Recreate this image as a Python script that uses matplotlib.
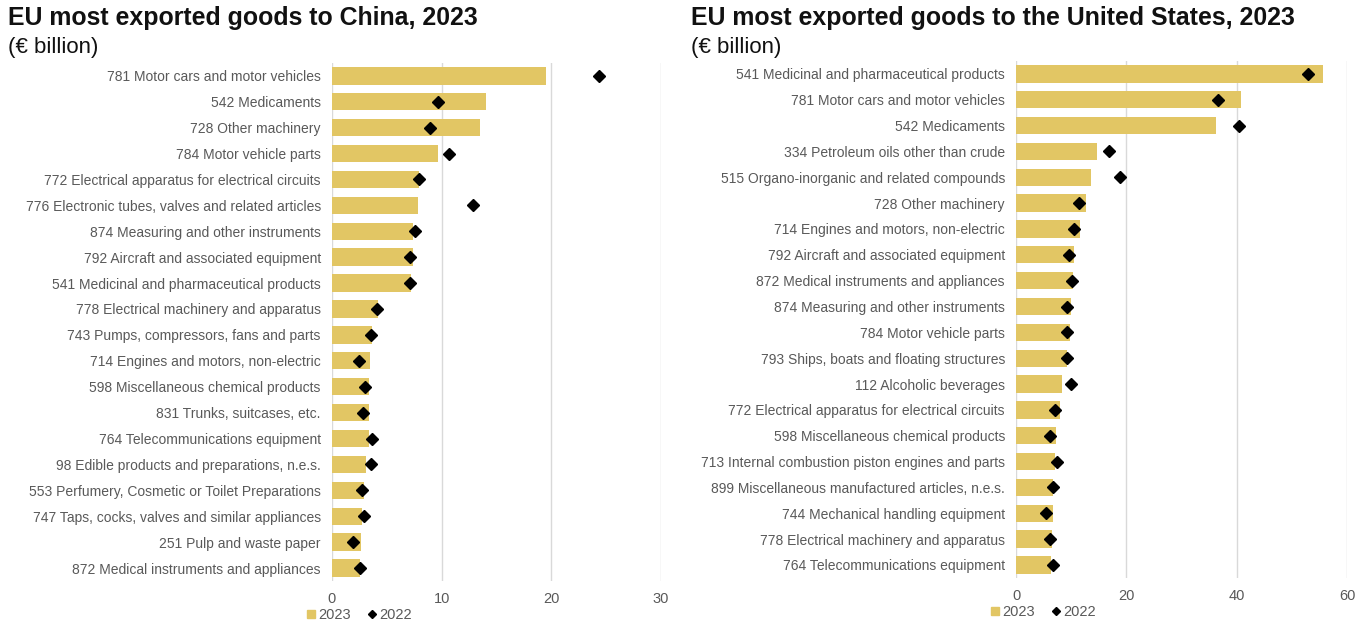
import matplotlib.pyplot as plt
from matplotlib.lines import Line2D

plt.rcParams['font.family'] = ['Liberation Sans', 'DejaVu Sans']

# China
cn_labels = [
    '781 Motor cars and motor vehicles',
    '542 Medicaments',
    '728 Other machinery',
    '784 Motor vehicle parts',
    '772 Electrical apparatus for electrical circuits',
    '776 Electronic tubes, valves and related articles',
    '874 Measuring and other instruments',
    '792 Aircraft and associated equipment',
    '541 Medicinal and pharmaceutical products',
    '778 Electrical machinery and apparatus',
    '743 Pumps, compressors, fans and parts',
    '714 Engines and motors, non-electric',
    '598 Miscellaneous chemical products',
    '831 Trunks, suitcases, etc.',
    '764 Telecommunications equipment',
    '98 Edible products and preparations, n.e.s.',
    '553 Perfumery, Cosmetic or Toilet Preparations',
    '747 Taps, cocks, valves and similar appliances',
    '251 Pulp and waste paper',
    '872 Medical instruments and appliances',
]
cn_2023 = [19.5, 14.0, 13.5, 9.7, 7.9, 7.8, 7.4, 7.4, 7.2, 4.2,
           3.65, 3.5, 3.4, 3.4, 3.35, 3.1, 2.9, 2.75, 2.65, 2.6]
cn_2022 = [24.3, 9.7, 8.9, 10.7, 7.9, 12.9, 7.6, 7.1, 7.1, 4.1,
           3.6, 2.45, 3.0, 2.8, 3.65, 3.6, 2.75, 2.9, 1.9, 2.6]

# United States
us_labels = [
    '541 Medicinal and pharmaceutical products',
    '781 Motor cars and motor vehicles',
    '542 Medicaments',
    '334 Petroleum oils other than crude',
    '515 Organo-inorganic and related compounds',
    '728 Other machinery',
    '714 Engines and motors, non-electric',
    '792 Aircraft and associated equipment',
    '872 Medical instruments and appliances',
    '874 Measuring and other instruments',
    '784 Motor vehicle parts',
    '793 Ships, boats and floating structures',
    '112 Alcoholic beverages',
    '772 Electrical apparatus for electrical circuits',
    '598 Miscellaneous chemical products',
    '713 Internal combustion piston engines and parts',
    '899 Miscellaneous manufactured articles, n.e.s.',
    '744 Mechanical handling equipment',
    '778 Electrical machinery and apparatus',
    '764 Telecommunications equipment',
]
us_2023 = [55.6, 40.8, 36.2, 14.6, 13.5, 12.65, 11.6, 10.45, 10.3, 9.9,
           9.7, 9.25, 8.25, 7.9, 7.3, 7.1, 6.7, 6.7, 6.6, 6.4]
us_2022 = [52.9, 36.6, 40.5, 16.8, 18.8, 11.45, 10.5, 9.6, 10.2, 9.2,
           9.3, 9.15, 9.9, 7.0, 6.2, 7.4, 6.7, 5.45, 6.2, 6.7]

gold = '#E2C664'
grey_text = '#595959'

fig = plt.figure(figsize=(13.66, 6.25), dpi=100)


def draw_panel(rect, labels, v23, v22, xmax, step, title, leg_anchor, title_x, title_y):
    ax = fig.add_axes(rect)
    y = range(len(labels))
    ax.barh(y, v23, height=0.67, color=gold, zorder=2)
    ax.plot(v22, y, linestyle='none', marker='D', markersize=6.5,
            color='black', zorder=3)
    ax.set_xlim(0, xmax)
    ax.set_ylim(len(labels) - 0.5, -0.5)
    ax.set_yticks(list(y))
    ax.set_yticklabels(labels, fontsize=10.0, color=grey_text)
    ax.set_xticks(range(0, xmax + 1, step))
    ax.tick_params(axis='x', labelsize=10.5, labelcolor=grey_text, length=0, pad=8)
    ax.tick_params(axis='y', length=0, pad=8)
    ax.grid(axis='x', color='#D9D9D9', linewidth=1, zorder=0)
    for s in ax.spines.values():
        s.set_visible(False)
    handles = [
        Line2D([], [], linestyle='none', marker='s', markersize=5.5, color=gold),
        Line2D([], [], linestyle='none', marker='D', markersize=4.5, color='black'),
    ]
    ax.legend(handles, ['2023', '2022'], loc='center left', bbox_to_anchor=leg_anchor,
              ncol=2, frameon=False, fontsize=10.5, labelcolor=grey_text,
              handletextpad=0.0, columnspacing=0.9, handlelength=1.0,
              borderaxespad=0, borderpad=0)
    fig.text(title_x, title_y, title, fontsize=17.9, fontweight='bold',
             color='#111111', va='top', ha='left')
    fig.text(title_x, title_y - 0.05, '(€ billion)', fontsize=16,
             color='#111111', va='top', ha='left')
    return ax


draw_panel([0.243, 0.0704, 0.241, 0.829], cn_labels, cn_2023, cn_2022, 30, 10,
           'EU most exported goods to China, 2023', (-0.085, -0.066), 0.006, 0.99)
draw_panel([0.7438, 0.0754, 0.2423, 0.827], us_labels, us_2023, us_2022, 60, 20,
           'EU most exported goods to the United States, 2023', (-0.085, -0.066), 0.506, 0.99)

fig.savefig('out.png', dpi=100)
